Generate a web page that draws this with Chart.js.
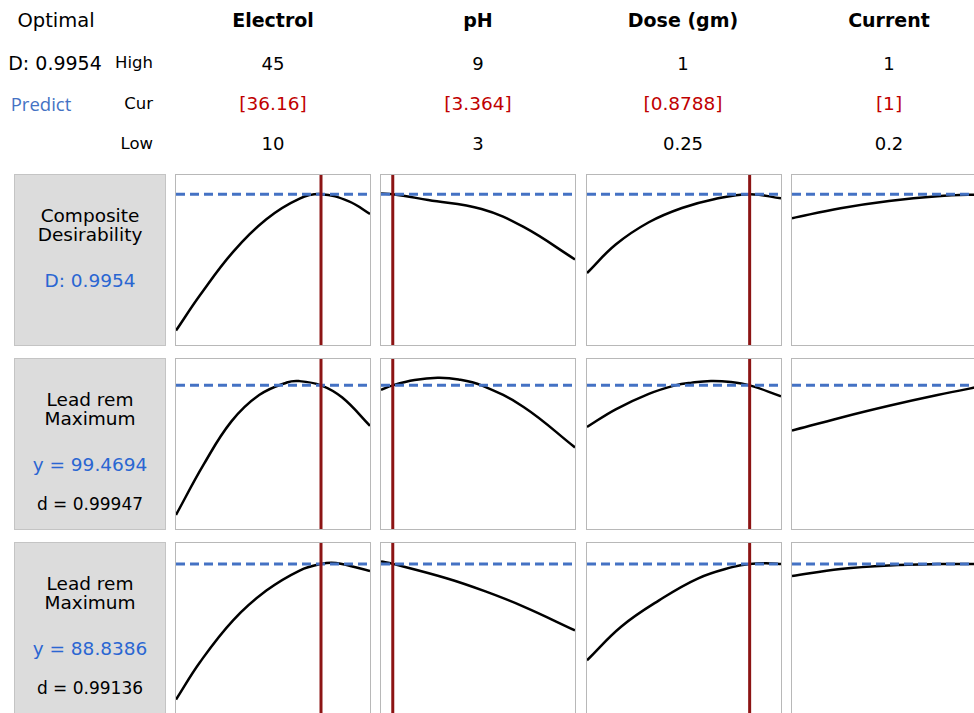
<!DOCTYPE html>
<html>
<head>
<meta charset="utf-8">
<script src="https://cdn.jsdelivr.net/npm/chart.js@4"></script>
<style>
  html, body { margin: 0; padding: 0; background: #fff; overflow: hidden; }
  body { width: 974px; height: 713px; position: relative; font-family: 'DejaVu Sans', sans-serif; color: #000; }
  .t { position: absolute; white-space: nowrap; transform: translate(-50%, -50%); }
  .r { position: absolute; white-space: nowrap; transform: translate(-100%, -50%); }
  .panel { position: absolute; box-sizing: border-box; border: 1px solid #b8b8b8; background: #fff; }
  .box { position: absolute; box-sizing: border-box; border: 1px solid #c4c4c4; background: #dcdcdc; }
  canvas { display: block; }
</style>
</head>
<body>
<script>
// factor settings
const factors = ['Electrol', 'pH', 'Dose (gm)', 'Current'];
const highLabels = ['45', '9', '1', '1'];
const lowLabels = ['10', '3', '0.25', '0.2'];
const curLabels = ['[36.16]', '[3.364]', '[0.8788]', '[1]'];
const lowVals = [10, 3, 0.25, 0.2];
const highVals = [45, 9, 1, 1];
const curVals = [36.16, 3.364, 0.8788, 1];

// responses (rows)
const rowTitles = [['Composite', 'Desirability'], ['Lead rem', 'Maximum'], ['Lead rem', 'Maximum']];
const rowPredLabels = ['D: 0.9954', 'y = 99.4694', 'y = 88.8386'];
const rowDLabels = [null, 'd = 0.99947', 'd = 0.99136'];
const rowPred = [0.9954, 99.4694, 88.8386];
const rowYMin = [0, 60, 40];
const rowYMax = [1.122, 106.71, 95.69];

// row 1: composite desirability
const desElectrolX = [10, 14.35, 20.3, 26.3, 32.3, 36.16, 41.2, 45];
const desElectrolY = [0.095, 0.330, 0.615, 0.830, 0.966, 0.9954, 0.948, 0.865];
const desPhX = [3, 3.364, 4.46, 6.11, 7.41, 9];
const desPhY = [0.9995, 0.9954, 0.957, 0.898, 0.779, 0.565];
const desDoseX = [0.25, 0.361, 0.489, 0.617, 0.745, 0.8788, 1];
const desDoseY = [0.475, 0.663, 0.810, 0.904, 0.964, 0.9954, 0.968];
const desCurrentX = [0.2, 0.4, 0.6, 0.8, 1];
const desCurrentY = [0.837, 0.903, 0.951, 0.982, 0.9954];

// row 2: Lead rem (y = 99.4694)
const lead1ElectrolX = [10, 15, 20, 25, 30, 32.2, 36.16, 40, 45];
const lead1ElectrolY = [63.88, 77.75, 89.57, 96.81, 100.26, 100.64, 99.47, 96.11, 88.35];
const lead1PhX = [3, 3.364, 4.04, 4.75, 5.4, 6.11, 7.41, 9];
const lead1PhY = [98.26, 99.47, 100.92, 101.53, 101.10, 99.47, 93.54, 82.42];
const lead1DoseX = [0.25, 0.361, 0.489, 0.591, 0.655, 0.729, 0.806, 0.8788, 1];
const lead1DoseY = [88.03, 92.88, 97.13, 99.47, 100.22, 100.68, 100.40, 99.47, 96.48];
const lead1CurrentX = [0.2, 0.4, 0.6, 0.8, 1];
const lead1CurrentY = [87.05, 90.59, 93.86, 96.81, 99.47];

// row 3: Lead rem (y = 88.8386)
const lead2ElectrolX = [10, 14.35, 20.3, 26.3, 32.3, 36.16, 38.85, 45];
const lead2ElectrolY = [44.40, 56.71, 70.35, 80.10, 86.67, 88.84, 89.12, 86.50];
const lead2PhX = [3, 3.364, 5.05, 6.23, 7.41, 9];
const lead2PhY = [89.62, 88.84, 84.05, 79.82, 74.86, 67.07];
const lead2DoseX = [0.25, 0.383, 0.530, 0.678, 0.811, 0.8788, 0.959, 1];
const lead2DoseY = [57.26, 68.35, 76.98, 84.05, 87.78, 88.84, 89.01, 88.79];
const lead2CurrentX = [0.2, 0.4, 0.6, 0.8, 1];
const lead2CurrentY = [84.89, 87.17, 88.34, 88.78, 88.84];

const curves = [
    [[desElectrolX, desElectrolY], [desPhX, desPhY], [desDoseX, desDoseY], [desCurrentX, desCurrentY]],
    [[lead1ElectrolX, lead1ElectrolY], [lead1PhX, lead1PhY], [lead1DoseX, lead1DoseY], [lead1CurrentX, lead1CurrentY]],
    [[lead2ElectrolX, lead2ElectrolY], [lead2PhX, lead2PhY], [lead2DoseX, lead2DoseY], [lead2CurrentX, lead2CurrentY]]
];

// layout
const colLeft = [175, 380, 586, 791];
const colCenter = [273, 478, 683, 889];
const rowTop = [174, 358, 542];
const panelW = 196, panelH = 172;

function text(str, x, y, style, cls) {
    const d = document.createElement('div');
    d.className = cls || 't';
    d.textContent = str;
    d.style.left = x + 'px';
    d.style.top = y + 'px';
    Object.assign(d.style, style || {});
    document.body.appendChild(d);
    return d;
}

// header
text('Optimal', 56, 20, { fontSize: '19.5px' });
text('D: 0.9954', 55, 63, { fontSize: '19px' });
text('Predict', 41, 103, { fontSize: '18.5px', color: '#4472c4', fontFamily: "'Open Sans', sans-serif" });
text('High', 153, 62, { fontSize: '16.5px' }, 'r');
text('Cur', 153, 103, { fontSize: '16.5px' }, 'r');
text('Low', 153, 143, { fontSize: '16.5px' }, 'r');

factors.forEach((f, i) => {
    text(f, colCenter[i], 20, { fontSize: '19px', fontWeight: 'bold' });
    text(highLabels[i], colCenter[i], 63, { fontSize: '18px' });
    text(curLabels[i], colCenter[i], 103, { fontSize: '18.5px', color: '#c00000' });
    text(lowLabels[i], colCenter[i], 143, { fontSize: '18px' });
});

// row label boxes
rowTitles.forEach((lines, r) => {
    const b = document.createElement('div');
    b.className = 'box';
    Object.assign(b.style, { left: '14px', top: rowTop[r] + 'px', width: '152px', height: panelH + 'px' });
    document.body.appendChild(b);
    const top = rowTop[r];
    text(lines[0], 90, top + 41, { fontSize: '18.5px' });
    text(lines[1], 90, top + 60, { fontSize: '18.5px' });
    text(rowPredLabels[r], 90, top + 106, { fontSize: '18.5px', color: '#2a66d2' });
    if (rowDLabels[r]) text(rowDLabels[r], 90, top + 146, { fontSize: '17px' });
});

// panels
for (let r = 0; r < 3; r++) {
    for (let c = 0; c < 4; c++) {
        const p = document.createElement('div');
        p.className = 'panel';
        Object.assign(p.style, { left: colLeft[c] + 'px', top: rowTop[r] + 'px', width: panelW + 'px', height: panelH + 'px' });
        const cv = document.createElement('canvas');
        cv.width = panelW - 2;
        cv.height = panelH - 2;
        p.appendChild(cv);
        document.body.appendChild(p);

        const xs = curves[r][c][0], ys = curves[r][c][1];
        const pts = xs.map((x, k) => ({ x: x, y: ys[k] }));

        new Chart(cv.getContext('2d'), {
            type: 'scatter',
            data: {
                datasets: [
                    {
                        data: [{ x: curVals[c], y: rowYMin[r] }, { x: curVals[c], y: rowYMax[r] }],
                        showLine: true, borderColor: '#8c1414', borderWidth: 3, pointRadius: 0
                    },
                    {
                        data: [{ x: lowVals[c], y: rowPred[r] }, { x: highVals[c], y: rowPred[r] }],
                        showLine: true, borderColor: '#4472c4', borderWidth: 3, borderDash: [9, 5], pointRadius: 0
                    },
                    {
                        data: pts,
                        showLine: true, borderColor: '#000', borderWidth: 2.5, pointRadius: 0,
                        tension: 0.4
                    }
                ]
            },
            options: {
                responsive: false,
                animation: false,
                events: [],
                layout: { padding: 0 },
                plugins: { legend: { display: false }, tooltip: { enabled: false } },
                scales: {
                    x: { type: 'linear', display: false, min: lowVals[c], max: highVals[c] },
                    y: { display: false, min: rowYMin[r], max: rowYMax[r] }
                }
            }
        });
    }
}
</script>
</body>
</html>
